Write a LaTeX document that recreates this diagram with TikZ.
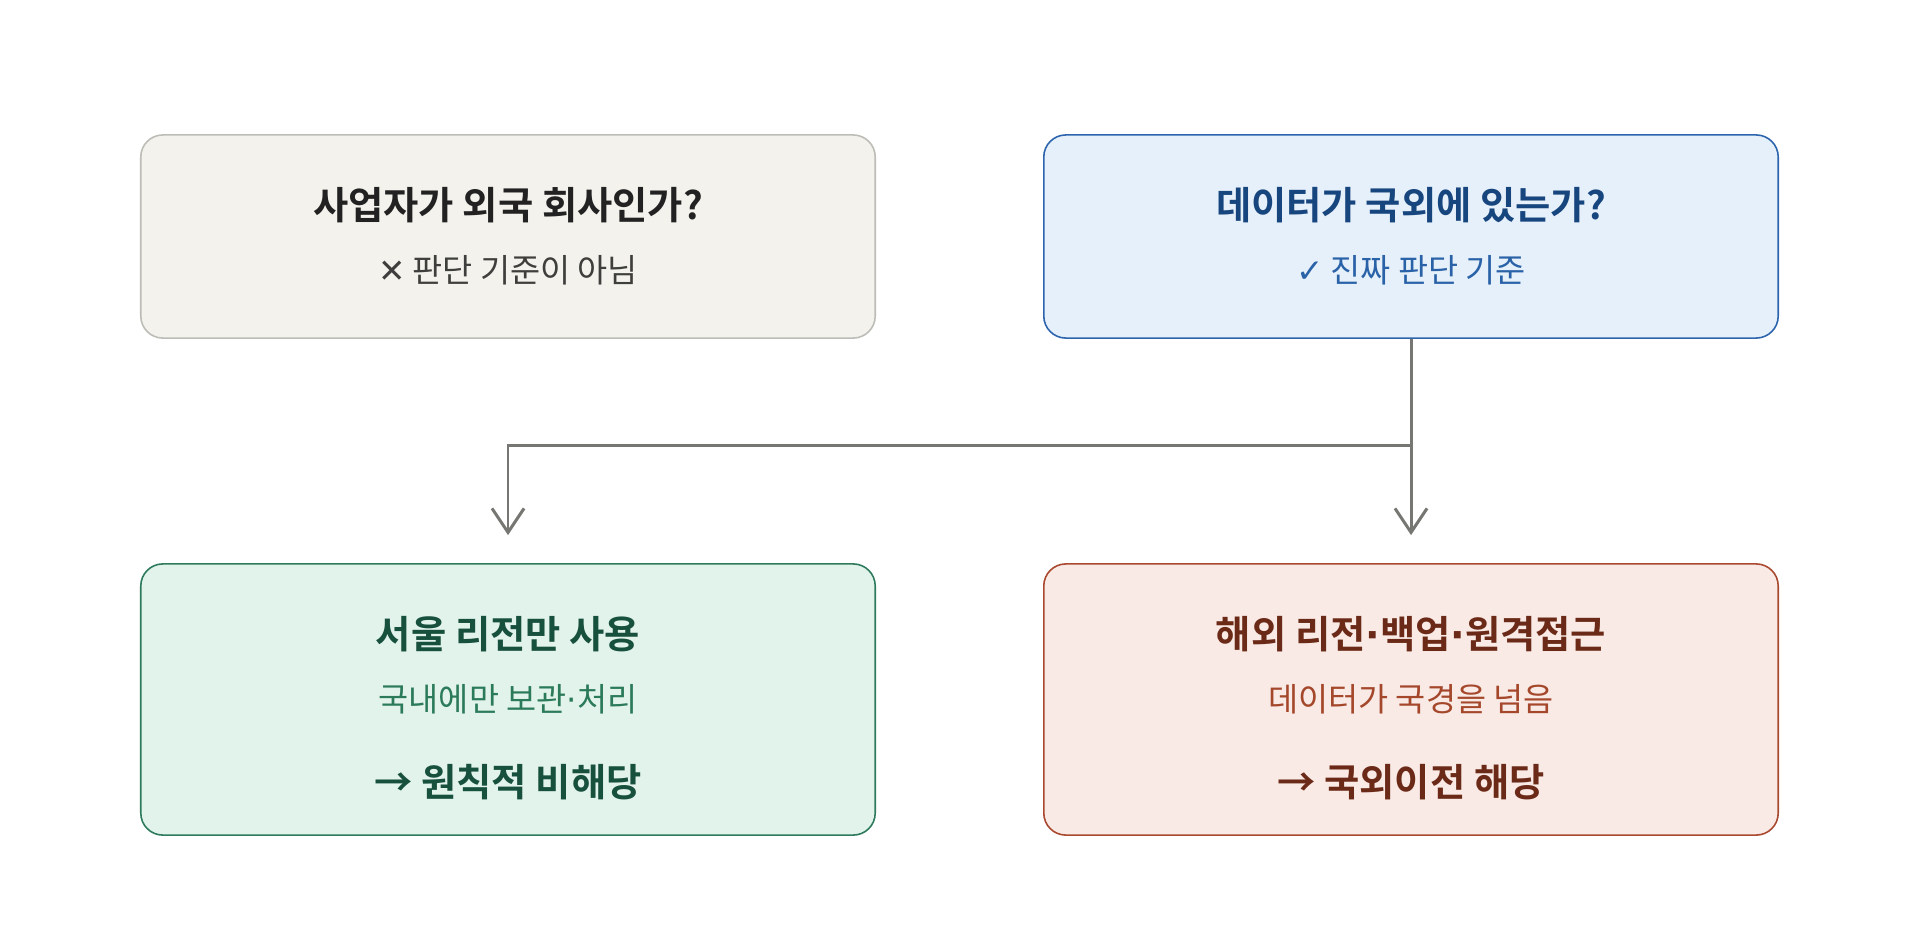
\documentclass[tikz,border=0pt]{standalone}
\usepackage{fontspec}
\setmainfont{Noto Sans CJK KR}[BoldFont={Noto Sans CJK KR Bold}]
\newfontfamily\symfont{DejaVu Sans}
\definecolor{grayfill}{HTML}{F3F2EC}
\definecolor{graydraw}{HTML}{BDBDB8}
\definecolor{graytitle}{HTML}{222222}
\definecolor{graysub}{HTML}{3E3E3C}
\definecolor{bluefill}{HTML}{E6F0FA}
\definecolor{bluedraw}{HTML}{2C65AE}
\definecolor{bluetitle}{HTML}{17457E}
\definecolor{bluesub}{HTML}{2A62A8}
\definecolor{greenfill}{HTML}{E2F3EC}
\definecolor{greendraw}{HTML}{2D7A5C}
\definecolor{greentitle}{HTML}{17503C}
\definecolor{greensub}{HTML}{2B7A5A}
\definecolor{redfill}{HTML}{F9EAE6}
\definecolor{reddraw}{HTML}{A9492F}
\definecolor{redtitle}{HTML}{6B2A17}
\definecolor{redsub}{HTML}{A4472B}
\definecolor{linkgray}{HTML}{767672}
\usetikzlibrary{arrows.meta, positioning}
\newcommand{\cardhead}[1]{{\bfseries\fontsize{10.9pt}{18pt}\selectfont #1}}
\newcommand{\cardnote}[1]{{\fontsize{9.3pt}{18pt}\selectfont #1}}
\newcommand{\middot}{{\symfont ·}}
\tikzset{
	card/.style={rectangle, rounded corners=0.22cm, line width=0.45pt, align=center, minimum width=7.34cm, inner sep=0pt, font=\fontsize{9.3pt}{18pt}\selectfont},
	topcard/.style={card, minimum height=2.03cm},
	lowcard/.style={card, minimum height=2.71cm},
	wrongcard/.style={topcard, draw=graydraw, fill=grayfill},
	rightcard/.style={topcard, draw=bluedraw, fill=bluefill},
	staycard/.style={lowcard, draw=greendraw, fill=greenfill},
	leavecard/.style={lowcard, draw=reddraw, fill=redfill},
	link/.style={draw=linkgray, line width=0.85pt},
	linkarrow/.style={link, -{Straight Barb[length=2.4mm, width=3.2mm, line width=0.85pt]}, shorten >=0.28cm},
}

\begin{document}
\begin{tikzpicture}[x=0.01cm, y=-0.01cm]
	\useasboundingbox (0,0) rectangle (1920,948);
	\node[wrongcard] (company) at (508,236.5) {\cardhead{\color{graytitle}사업자가 외국 회사인가?}\\ \cardnote{\color{graysub}{\symfont ✕} 판단 기준이 아님}};
	\node[rightcard] (data) at (1411,236.5) {\cardhead{\color{bluetitle}데이터가 국외에 있는가?}\\ \cardnote{\color{bluesub}{\symfont ✓} 진짜 판단 기준}};
	\node[staycard] (domestic) at (508,699.5) {\rule{0pt}{14pt}\cardhead{\color{greentitle}서울 리전만 사용}\\ \cardnote{\color{greensub}국내에만 보관\middot 처리}\\[6pt] \cardhead{\color{greentitle}→ 원칙적 비해당}};
	\node[leavecard] (abroad) at (1411,699.5) {\rule{0pt}{14pt}\cardhead{\color{redtitle}해외 리전\middot 백업\middot 원격접근}\\ \cardnote{\color{redsub}데이터가 국경을 넘음}\\[6pt] \cardhead{\color{redtitle}→ 국외이전 해당}};
	\coordinate (split) at (data.south |- 0,445);
	\draw[linkarrow] (data.south) -- (abroad.north);
	\draw[linkarrow] (split) -| (domestic.north);
\end{tikzpicture}
\end{document}
